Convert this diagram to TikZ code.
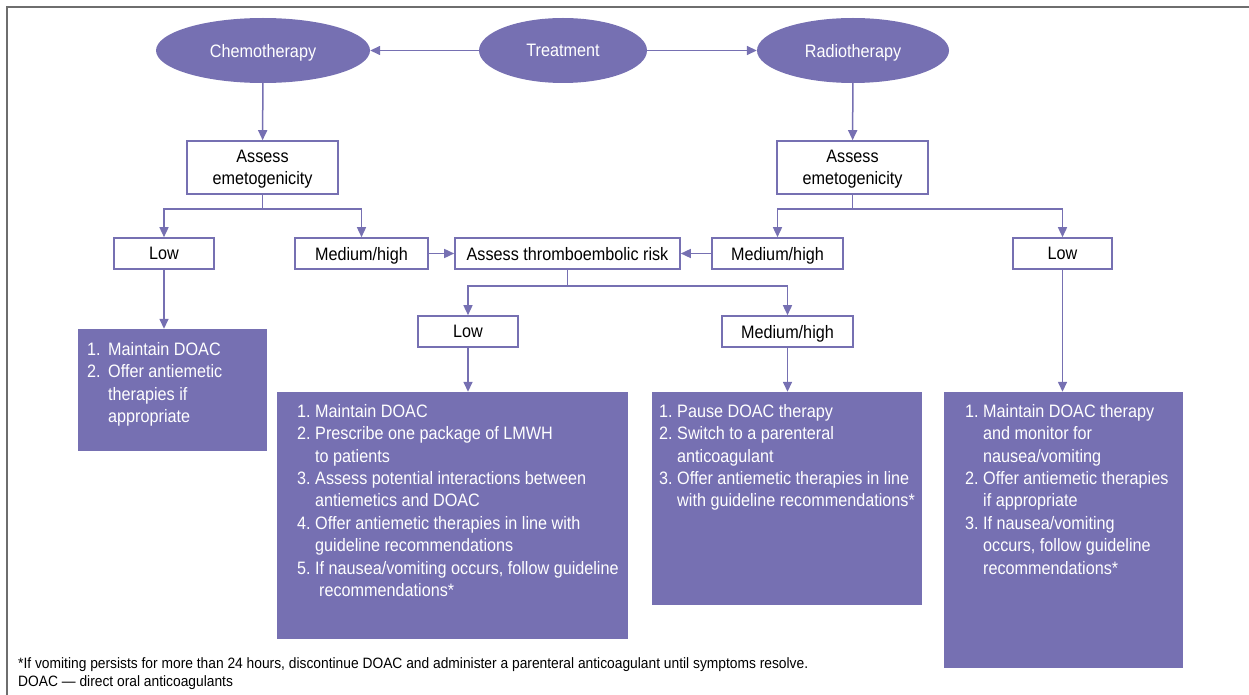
\documentclass[tikz,border=0pt]{standalone}
\usepackage{fontspec}
\setmainfont{Liberation Sans}[FakeStretch=0.9]
\newfontfamily\footfont{Liberation Sans}[FakeStretch=0.92,Ligatures=TeX]
\usetikzlibrary{arrows.meta,shapes.geometric}
\definecolor{pur}{RGB}{118,112,178}
\definecolor{framegray}{RGB}{110,110,110}
\newcommand{\numA}[1]{\makebox[18pt][l]{#1}}
\newcommand{\numB}[1]{\makebox[21pt][l]{#1}}
\begin{document}
\begin{tikzpicture}[x=1pt,y=-1pt,
  ell/.style={ellipse,fill=pur,draw=none,inner sep=0pt,text=white,text depth=0pt,font=\fontsize{18}{22}\selectfont},
  wbox/.style={rectangle,draw=pur,line width=1.6pt,fill=white,inner sep=0pt,align=center,text depth=0pt,font=\fontsize{18}{22}\selectfont,text=black},
  pbox/.style={rectangle,fill=pur,draw=none,inner sep=0pt},
  ptext/.style={anchor=north west,inner sep=0pt,align=left,text=white,font=\fontsize{18}{22.4}\selectfont},
  conn/.style={draw=pur,line width=1.5pt},
  arr/.style={conn,-{Triangle[length=10pt,width=9pt]}},
  foot/.style={anchor=west,inner sep=0pt,font=\footfont\fontsize{15}{18}\selectfont,text=black}]
\useasboundingbox (0,0) rectangle (1249,695);
\begin{scope}
\clip (0,0) rectangle (1249,695);
\draw[framegray,line width=1.5pt] (7,720) -- (7,7) -- (1270,7);
\end{scope}
% ellipses
\node[ell,minimum width=214pt,minimum height=65pt] (chemo) at (263,50.5) {Chemotherapy};
\node[ell,minimum width=168pt,minimum height=65pt] (treat) at (563,50.5) {Treatment};
\node[ell,minimum width=192pt,minimum height=65pt] (radio) at (853,50.5) {Radiotherapy};
% white boxes
\node[wbox,minimum width=151pt,minimum height=53pt] (ae1) at (262.5,167.5) {Assess\\emetogenicity};
\node[wbox,minimum width=151pt,minimum height=53pt] (ae2) at (852.5,167.5) {Assess\\emetogenicity};
\node[wbox,minimum width=100pt,minimum height=31pt] (low1) at (164,253.5) {Low};
\node[wbox,minimum width=133pt,minimum height=31pt] (mh1) at (361.5,253.5) {Medium/high};
\node[wbox,minimum width=225pt,minimum height=31pt] (tr) at (567.5,253.5) {Assess thromboembolic risk};
\node[wbox,minimum width=131pt,minimum height=31pt] (mh2) at (777.5,253.5) {Medium/high};
\node[wbox,minimum width=99pt,minimum height=31pt] (low2) at (1062.5,253.5) {Low};
\node[wbox,minimum width=100pt,minimum height=31pt] (low3) at (468,331.5) {Low};
\node[wbox,minimum width=131pt,minimum height=31pt] (mh3) at (787.5,331.5) {Medium/high};
% purple boxes
\node[pbox,minimum width=189pt,minimum height=122pt] (p1) at (172.5,390) {};
\node[pbox,minimum width=351pt,minimum height=247pt] (p2) at (452.5,515.5) {};
\node[pbox,minimum width=270pt,minimum height=213pt] (p3) at (787,498.5) {};
\node[pbox,minimum width=239pt,minimum height=276pt] (p4) at (1063.5,530) {};
% texts in purple boxes
\node[ptext] (t1) at (87,342) {\numB{1.}Maintain DOAC\\\numB{2.}Offer antiemetic\\\numB{}therapies if\\\numB{}appropriate};
\node[ptext] (t2) at (297,404) {\numA{1.}Maintain DOAC\\\numA{2.}Prescribe one package of LMWH\\\numA{}to patients\\\numA{3.}Assess potential interactions between\\\numA{}antiemetics and DOAC\\\numA{4.}Offer antiemetic therapies in line with\\\numA{}guideline recommendations\\\numA{5.}If nausea/vomiting occurs, follow guideline\\\hspace*{22pt}recommendations*};
\node[ptext] (t3) at (659,404) {\numA{1.}Pause DOAC therapy\\\numA{2.}Switch to a parenteral\\\numA{}anticoagulant\\\numA{3.}Offer antiemetic therapies in line\\\numA{}with guideline recommendations*};
\node[ptext] (t4) at (965,404) {\numA{1.}Maintain DOAC therapy\\\numA{}and monitor for\\\numA{}nausea/vomiting\\\numA{2.}Offer antiemetic therapies\\\numA{}if appropriate\\\numA{3.}If nausea/vomiting\\\numA{}occurs, follow guideline\\\numA{}recommendations*};
% connectors
\draw[arr] (treat) -- (chemo);
\draw[arr] (treat) -- (radio);
\draw[arr] (chemo) -- (ae1);
\draw[arr] (radio) -- (ae2);
\coordinate (b1) at (262.5,209);
\coordinate (b2) at (852.5,209);
\coordinate (b3) at (567.5,286);
\draw[conn] (ae1) -- (b1);
\draw[arr] (b1) -| (low1);
\draw[arr] (b1) -| (mh1);
\draw[conn] (ae2) -- (b2);
\draw[arr] (b2) -| (mh2);
\draw[arr] (b2) -| (low2);
\draw[arr] (mh1) -- (tr);
\draw[arr] (mh2) -- (tr);
\draw[conn] (tr) -- (b3);
\draw[arr] (b3) -| (low3);
\draw[arr] (b3) -| (mh3);
\draw[arr] (low1) -- (low1 |- p1.north);
\draw[arr] (low3) -- (low3 |- p2.north);
\draw[arr] (mh3) -- (mh3 |- p3.north);
\draw[arr] (low2) -- (low2 |- p4.north);
% footnotes
\node[foot] (f1) at (18,665) {*If vomiting persists for more than 24 hours, discontinue DOAC and administer a parenteral anticoagulant until symptoms resolve.};
\node[foot] (f2) at (18,683) {DOAC \textemdash{} direct oral anticoagulants};
\end{tikzpicture}
\end{document}
